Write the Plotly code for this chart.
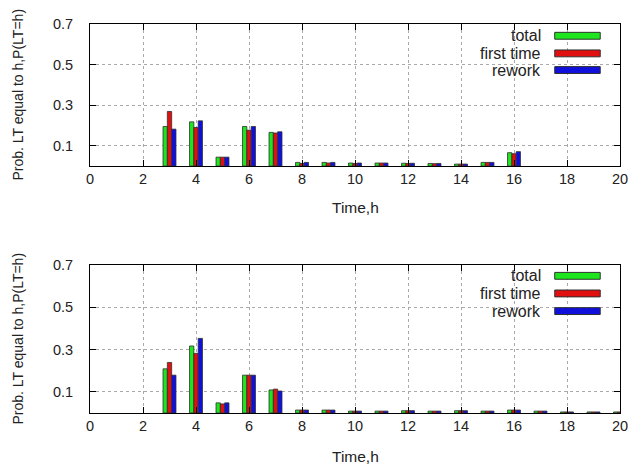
import plotly.graph_objects as go

N = None
hours = list(range(1, 21))
# top panel
top_total = [N, N, 0.195, 0.218, 0.044, 0.195, 0.166, 0.018, 0.018, 0.015, 0.015, 0.014, 0.013, 0.010, 0.018, 0.066, N, N, N, N]
top_first = [N, N, 0.269, 0.190, 0.044, 0.177, 0.163, 0.013, 0.015, 0.013, 0.015, 0.013, 0.012, 0.010, 0.018, 0.061, N, N, N, N]
top_rework = [N, N, 0.182, 0.223, 0.044, 0.195, 0.169, 0.018, 0.018, 0.015, 0.015, 0.014, 0.013, 0.010, 0.018, 0.071, N, N, N, N]
# bottom panel
bot_total = [N, N, 0.209, 0.317, 0.048, 0.179, 0.109, 0.014, 0.014, 0.009, 0.009, 0.011, 0.009, 0.011, 0.009, 0.014, 0.009, 0.005, 0.005, 0.005]
bot_first = [N, N, 0.239, 0.282, 0.043, 0.179, 0.113, 0.014, 0.014, 0.009, 0.009, 0.011, 0.009, 0.011, 0.009, 0.014, 0.009, 0.005, 0.005, 0.005]
bot_rework = [N, N, 0.179, 0.353, 0.048, 0.179, 0.104, 0.014, 0.014, 0.009, 0.009, 0.011, 0.009, 0.011, 0.009, 0.014, 0.009, 0.005, 0.005, 0.005]

series_names = ["total", "first time", "rework"]
colors = ["#1ee61e", "#e01010", "#1010dd"]
x_ticks = list(range(0, 21, 2))
y_ticks = [0.1, 0.3, 0.5, 0.7]

FONT = "Liberation Sans, Arial, sans-serif"
OFF = 8  # page body margin
W, H = 636 - OFF, 466 - OFF
L, R, T, B = 90 - OFF, 10, 16 - OFF, 53
PH = H - T - B
PW = W - L - R

def py(pix):
    return (H - B - (pix - OFF)) / PH

def px(pix):
    return ((pix - OFF) - L) / PW

fig = go.Figure()
bw = 0.163
offsets = [-1.5 * bw, -0.5 * bw, 0.5 * bw]
panels = [("x", "y", [top_total, top_first, top_rework]),
          ("x2", "y2", [bot_total, bot_first, bot_rework])]
for xa, ya, data in panels:
    for name, col, off, vals in zip(series_names, colors, offsets, data):
        fig.add_trace(go.Bar(x=hours, y=vals, name=name, xaxis=xa, yaxis=ya,
                             width=bw, offset=off, marker_color=col,
                             marker_line=dict(color="#303030", width=0.8),
                             showlegend=False))

axis_common = dict(showline=True, linecolor="black", linewidth=1, mirror="allticks",
                   ticks="inside", ticklen=6, tickcolor="black",
                   showgrid=True, gridcolor="#aaaaaa", griddash="dot", gridwidth=1,
                   zeroline=False, tickfont=dict(family=FONT, size=14.5, color="#222"))

top_dom = [py(161), 1.0]
bot_dom = [0.0, py(262)]

fig.update_layout(
    width=W, height=H, margin=dict(l=L, r=R, t=T, b=B),
    paper_bgcolor="white", plot_bgcolor="white", barmode="overlay",
    xaxis=dict(domain=[0, 1], range=[0, 20], tickvals=x_ticks, anchor="y", **axis_common),
    yaxis=dict(domain=top_dom, range=[0, 0.7], tickvals=y_ticks, ticktext=["0.1", "0.3", "0.5", "0.7"],
               anchor="x", ticklabelstandoff=13, **axis_common),
    xaxis2=dict(domain=[0, 1], range=[0, 20], tickvals=x_ticks, anchor="y2", **axis_common),
    yaxis2=dict(domain=bot_dom, range=[0, 0.7], tickvals=y_ticks, ticktext=["0.1", "0.3", "0.5", "0.7"],
                anchor="x2", ticklabelstandoff=13, **axis_common),
)

shapes = []
annotations = []
for (ytop, ybot_rect, ys) in [(16, 75, [28, 46, 63]), (262, 320, [273, 291, 309])]:
    shapes.append(dict(type="rect", xref="paper", yref="paper", layer="between",
                       x0=px(452), x1=px(615), y0=py(ybot_rect), y1=py(ytop + 1),
                       fillcolor="white", line=dict(width=0)))
    for name, col, yy in zip(series_names, colors, ys):
        annotations.append(dict(text=name, xref="paper", yref="paper", x=px(548), y=py(yy),
                                xanchor="right", yanchor="middle", showarrow=False,
                                font=dict(family=FONT, size=16, color="#222")))
        shapes.append(dict(type="rect", xref="paper", yref="paper", layer="above",
                           x0=px(560), x1=px(606), y0=py(yy + 3.5), y1=py(yy - 3.5),
                           fillcolor=col, line=dict(color="#303030", width=1)))

for mid, xt in [(88, 203), (337, 457)]:
    annotations.append(dict(text="Prob. LT equal to h,P(LT=h)", xref="paper", yref="paper",
                            x=0, y=py(mid), xshift=-72, textangle=-90, showarrow=False,
                            xanchor="center", yanchor="middle",
                            font=dict(family=FONT, size=14, color="#222")))
    annotations.append(dict(text="Time,h", xref="paper", yref="paper", x=0.5, y=py(xt),
                            showarrow=False, xanchor="center", yanchor="middle",
                            font=dict(family=FONT, size=15.5, color="#222")))

fig.update_layout(shapes=shapes, annotations=annotations)
fig.write_html("out.html")
